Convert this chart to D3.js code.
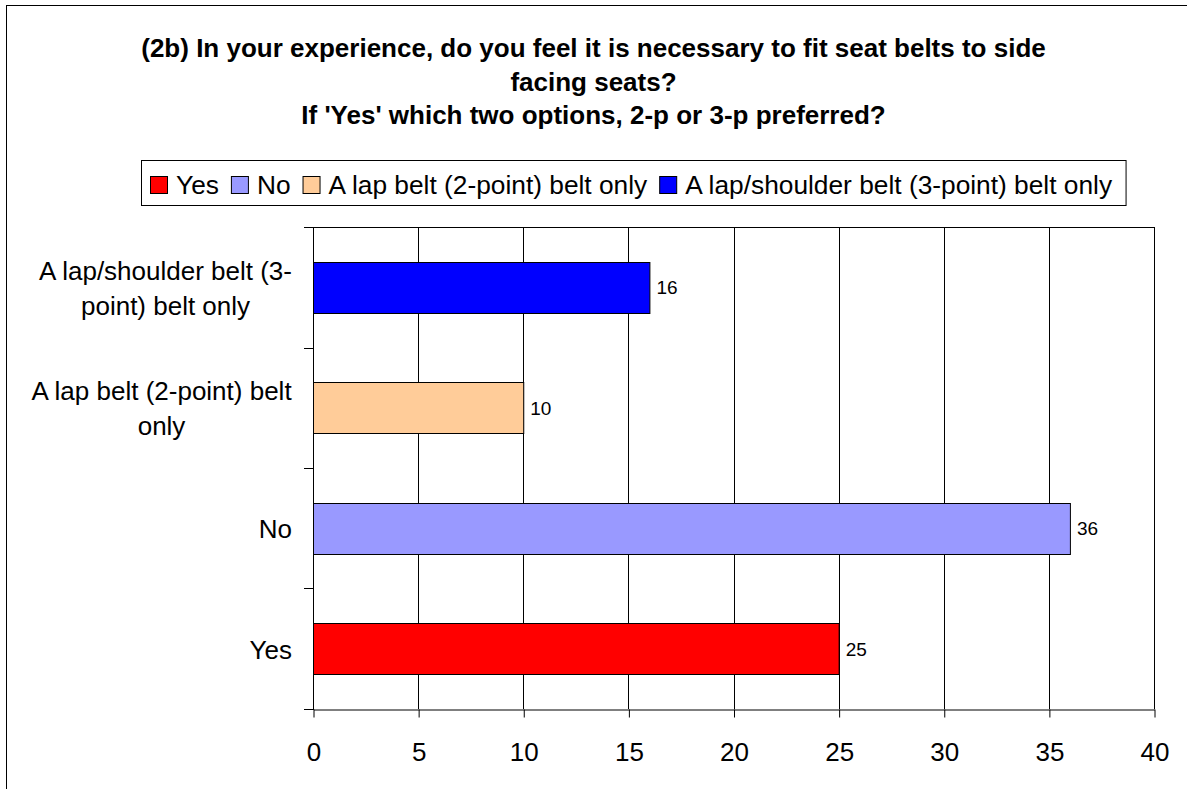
<!DOCTYPE html>
<html>
<head>
<meta charset="utf-8">
<script src="https://cdn.jsdelivr.net/npm/d3@7"></script>
<style>
  body { margin: 0; background: #fff; }
  text { font-family: "Liberation Sans", Arial, sans-serif; fill: #000; }
</style>
</head>
<body>
<script>
const titleLines = [
  "(2b) In your experience, do you feel it is necessary to fit seat belts to side",
  "facing seats?",
  "If 'Yes' which two options, 2-p or 3-p preferred?"
];
const categories = ["Yes", "No", "A lap belt (2-point) belt only", "A lap/shoulder belt (3-point) belt only"];
const categoryLines = [["Yes"], ["No"], ["A lap belt (2-point) belt", "only"], ["A lap/shoulder belt (3-", "point) belt only"]];
const values = [25, 36, 10, 16];
const colors = ["#ff0000", "#9999ff", "#ffcc99", "#0000ff"];
const xTicks = [0, 5, 10, 15, 20, 25, 30, 35, 40];

const width = 1187;
const height = 789;
const plot = { left: 313, right: 1154, top: 227, bottom: 709 };

const svg = d3.select('body').append('svg')
  .attr('width', width)
  .attr('height', height);

// outer frame (runs off the right and bottom edges)
svg.append('rect')
  .attr('x', 6.5).attr('y', 5.5)
  .attr('width', 1300).attr('height', 900)
  .attr('fill', 'none').attr('stroke', '#000');

svg.append('g').selectAll('text')
  .data(titleLines)
  .enter().append('text')
  .attr('x', width / 2)
  .attr('y', (d, i) => 57 + i * 33.5)
  .attr('text-anchor', 'middle')
  .attr('font-size', 26)
  .attr('font-weight', 'bold')
  .text(d => d);

// legend
const legend = svg.append('g');
const legendBox = legend.append('rect')
  .attr('fill', '#fff').attr('stroke', '#000');
let lx = 150;
categories.forEach((c, i) => {
  legend.append('rect')
    .attr('x', lx + 0.5).attr('y', 176.5)
    .attr('width', 17).attr('height', 17)
    .attr('fill', colors[i]).attr('stroke', '#000');
  const t = legend.append('text')
    .attr('x', lx + 26).attr('y', 193.5)
    .attr('font-size', 26.3)
    .text(c);
  lx += 26 + t.node().getComputedTextLength() + 12;
});
legendBox.attr('x', 141.5).attr('y', 160.5)
  .attr('width', lx - 12 + 14 - 141.5).attr('height', 45);

const xScale = d3.scaleLinear().domain([0, 40]).range([plot.left, plot.right]);
const yScale = d3.scaleBand()
  .domain(categories.slice().reverse())
  .range([plot.top, plot.bottom])
  .paddingInner(0.58)
  .paddingOuter(0.29);

// gridlines
svg.append('g').selectAll('line')
  .data(xTicks.slice(1))
  .enter().append('line')
  .attr('x1', d => Math.round(xScale(d)) + 0.5)
  .attr('x2', d => Math.round(xScale(d)) + 0.5)
  .attr('y1', plot.top)
  .attr('y2', plot.bottom)
  .attr('stroke', '#000');

svg.append('line')
  .attr('x1', plot.left).attr('x2', plot.right + 1)
  .attr('y1', plot.top + 0.5).attr('y2', plot.top + 0.5)
  .attr('stroke', '#000');

// bottom axis
const xAxis = d3.axisBottom(xScale)
  .tickValues(xTicks)
  .tickSize(8)
  .tickPadding(25)
  .tickSizeOuter(0);

const xg = svg.append('g')
  .attr('transform', `translate(0.5, ${plot.bottom + 0.5})`)
  .call(xAxis);
xg.selectAll('text').attr('font-size', 26).attr('font-family', '"Liberation Sans", Arial, sans-serif').attr('fill', '#000');
xg.selectAll('line, path').attr('stroke', '#000');

// left axis with ticks on band boundaries
const bounds = yScale.domain().map(c => yScale(c) + yScale.bandwidth() / 2 - yScale.step() / 2);
bounds.push(plot.bottom);
const yg = svg.append('g');
yg.append('line')
  .attr('x1', plot.left + 0.5).attr('x2', plot.left + 0.5)
  .attr('y1', plot.top).attr('y2', plot.bottom + 1)
  .attr('stroke', '#000');
yg.selectAll('.tick')
  .data(bounds)
  .enter().append('line')
  .attr('x1', plot.left - 9).attr('x2', plot.left)
  .attr('y1', d => Math.round(d) + 0.5)
  .attr('y2', d => Math.round(d) + 0.5)
  .attr('stroke', '#000');

const labelGroup = yg.selectAll('.cat')
  .data(categories)
  .enter().append('text')
  .attr('font-size', 26)
  .attr('text-anchor', 'middle');
labelGroup.each(function (d, i) {
  const lines = categoryLines[i];
  const cy = yScale(d) + yScale.bandwidth() / 2;
  const el = d3.select(this);
  lines.forEach((ln, j) => {
    el.append('tspan')
      .attr('x', 0)
      .attr('y', cy + 10 + (j - (lines.length - 1) / 2) * 35)
      .text(ln);
  });
  const w = this.getBBox().width;
  el.selectAll('tspan').attr('x', 292 - w / 2);
});

// bars
svg.append('g').selectAll('rect')
  .data(categories)
  .enter().append('rect')
  .attr('x', plot.left + 0.5)
  .attr('y', d => Math.round(yScale(d)) + 0.5)
  .attr('width', (d, i) => xScale(values[i]) - plot.left)
  .attr('height', Math.round(yScale.bandwidth()))
  .attr('fill', (d, i) => colors[i])
  .attr('stroke', '#000');

svg.append('g').selectAll('text')
  .data(categories)
  .enter().append('text')
  .attr('x', (d, i) => xScale(values[i]) + 7)
  .attr('y', d => yScale(d) + yScale.bandwidth() / 2 + 7)
  .attr('font-size', 19)
  .text((d, i) => values[i]);
</script>
</body>
</html>
